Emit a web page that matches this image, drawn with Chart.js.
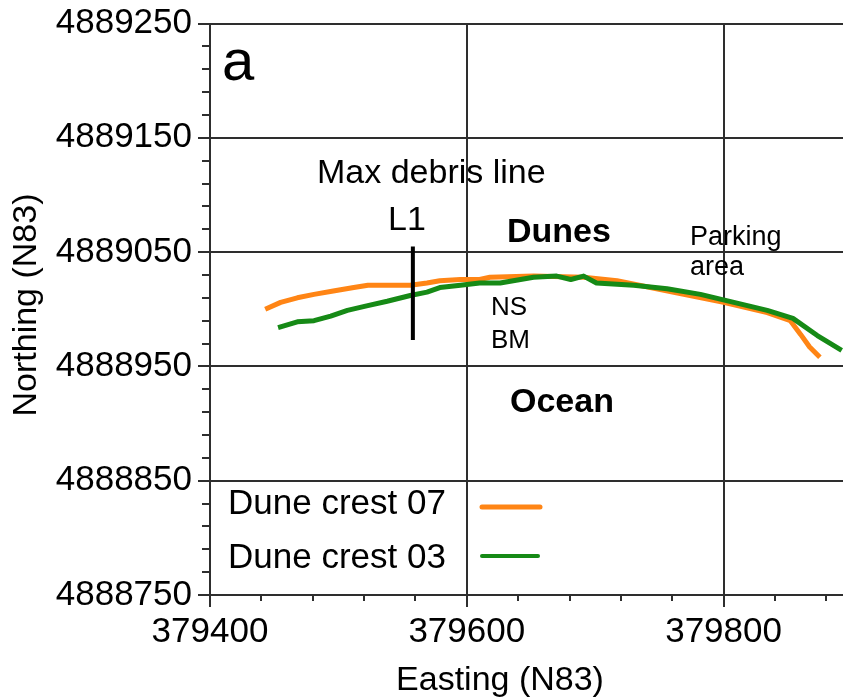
<!DOCTYPE html>
<html>
<head>
<meta charset="utf-8">
<title>Dune crest</title>
<script src="https://cdn.jsdelivr.net/npm/chart.js@4.4.1/dist/chart.umd.min.js"></script>
<style>
  body { margin: 0; background: #fff; overflow: hidden; }
  canvas { display: block; }
</style>
</head>
<body>
<canvas id="graficoDunas" width="843" height="700"></canvas>
<script>
// dune crest 2007 (orange)
const crest07East = [379443, 379455, 379468, 379481, 379496, 379512, 379523, 379538, 379556, 379569, 379579, 379595, 379610, 379618, 379652, 379691, 379717, 379743, 379769, 379800, 379834, 379852, 379860, 379867, 379875];
const crest07North = [4889000, 4889006, 4889010, 4889013, 4889016, 4889019, 4889021, 4889021, 4889021, 4889023, 4889025, 4889026, 4889026, 4889028, 4889029, 4889028, 4889025, 4889019, 4889013, 4889006, 4888997, 4888990, 4888978, 4888967, 4888958];

// dune crest 2003 (green)
const crest03East = [379453, 379468, 379481, 379494, 379507, 379522, 379538, 379556, 379569, 379579, 379595, 379610, 379626, 379652, 379670, 379681, 379691, 379701, 379730, 379756, 379782, 379808, 379834, 379854, 379873, 379892];
const crest03North = [4888984, 4888989, 4888990, 4888994, 4888999, 4889003, 4889007, 4889012, 4889015, 4889019, 4889021, 4889023, 4889023, 4889028, 4889029, 4889026, 4889029, 4889023, 4889021, 4889018, 4889013, 4889006, 4888999, 4888992, 4888977, 4888964];

// max debris line L1
const debrisEast = [379558, 379558];
const debrisNorth = [4888973, 4889055];

const eastTicks = [379400, 379600, 379800];
const northTicks = [4888750, 4888850, 4888950, 4889050, 4889150, 4889250];

const FONTE = "'Liberation Sans', Arial, sans-serif";
const COR_GRADE = '#2e2e2e';

function pares(xs, ys) {
    return xs.map((x, i) => ({ x: x, y: ys[i] }));
}

// minor ticks + texts on the plot
const extras = {
    id: 'extras',
    afterDraw(chart) {
        const ctx = chart.ctx;
        const area = chart.chartArea;
        const sx = chart.scales.x;
        const sy = chart.scales.y;
        ctx.save();

        ctx.strokeStyle = COR_GRADE;
        ctx.lineWidth = 2;
        ctx.beginPath();
        for (let v = sy.min; v <= sy.max; v += 20) {
            if ((v - sy.min) % 100 === 0) continue;
            const py = Math.round(sy.getPixelForValue(v));
            ctx.moveTo(area.left - 8, py);
            ctx.lineTo(area.left, py);
        }
        for (let v = sx.min; v <= sx.max; v += 40) {
            if ((v - sx.min) % 200 === 0) continue;
            const px = Math.round(sx.getPixelForValue(v));
            ctx.moveTo(px, area.bottom);
            ctx.lineTo(px, area.bottom + 6);
        }
        ctx.stroke();

        ctx.fillStyle = '#000';
        ctx.textBaseline = 'alphabetic';
        ctx.textAlign = 'left';
        const texto = (t, x, y, tam, peso) => {
            ctx.font = (peso || 'normal') + ' ' + tam + 'px ' + FONTE;
            ctx.fillText(t, x, y);
        };
        texto('a', 222, 80, 58);
        texto('Max debris line', 317, 183, 34);
        texto('L1', 388, 230, 34);
        texto('Dunes', 507, 242, 34, 'bold');
        texto('Parking', 690, 245, 27);
        texto('area', 690, 275, 27);
        texto('NS', 491, 315, 26);
        texto('BM', 491, 348, 26);
        texto('Ocean', 510, 412, 34, 'bold');

        // legend: text then line sample
        const itens = chart.data.datasets.filter(d => d.label);
        itens.forEach((d, i) => {
            const base = 514 + i * 54;
            texto(d.label, 228, base, 35);
            ctx.strokeStyle = d.borderColor;
            ctx.lineWidth = 5 - i;
            ctx.lineCap = 'round';
            ctx.beginPath();
            ctx.moveTo(482, base - 7 - i * 5);
            ctx.lineTo(540 - i * 2, base - 7 - i * 5);
            ctx.stroke();
        });

        // axis titles
        ctx.font = '34px ' + FONTE;
        ctx.textAlign = 'center';
        ctx.fillText('Easting (N83)', 500, 690);
        ctx.translate(27, 305);
        ctx.rotate(-Math.PI / 2);
        ctx.textBaseline = 'middle';
        ctx.fillText('Northing (N83)', 0, 0);
        ctx.restore();
    }
};

const ctx = document.getElementById('graficoDunas').getContext('2d');
new Chart(ctx, {
    type: 'scatter',
    data: {
        datasets: [
            {
                label: 'Dune crest 07',
                data: pares(crest07East, crest07North),
                borderColor: '#ff8515',
                borderWidth: 5,
                order: 3
            },
            {
                label: 'Dune crest 03',
                data: pares(crest03East, crest03North),
                borderColor: '#168a16',
                borderWidth: 5,
                order: 2
            },
            {
                label: '',
                data: pares(debrisEast, debrisNorth),
                borderColor: '#000',
                borderWidth: 4,
                order: 1
            }
        ]
    },
    options: {
        responsive: false,
        animation: false,
        showLine: true,
        elements: {
            point: { radius: 0, hoverRadius: 0 },
            line: { tension: 0, borderJoinStyle: 'round', borderCapStyle: 'butt' }
        },
        layout: { padding: { top: 21, left: 0, right: 0, bottom: 0 } },
        plugins: {
            legend: { display: false },
            tooltip: { enabled: false }
        },
        scales: {
            x: {
                type: 'linear',
                min: 379400,
                max: 379893,
                afterFit: s => { s.height = 105; },
                afterBuildTicks: s => { s.ticks = eastTicks.map(v => ({ value: v })); },
                grid: { color: COR_GRADE, lineWidth: 2, tickLength: 12 },
                border: { color: COR_GRADE, width: 2 },
                ticks: {
                    font: { family: FONTE, size: 35 },
                    color: '#000',
                    padding: 4,
                    maxRotation: 0,
                    callback: v => String(v)
                }
            },
            y: {
                type: 'linear',
                min: 4888750,
                max: 4889250,
                afterFit: s => { s.width = 210; },
                afterBuildTicks: s => { s.ticks = northTicks.map(v => ({ value: v })); },
                grid: { color: COR_GRADE, lineWidth: 2, tickLength: 12 },
                border: { color: COR_GRADE, width: 2 },
                ticks: {
                    font: { family: FONTE, size: 35, lineHeight: 1 },
                    color: '#000',
                    padding: 6,
                    callback: v => String(v)
                }
            }
        }
    },
    plugins: [extras]
});
</script>
</body>
</html>
